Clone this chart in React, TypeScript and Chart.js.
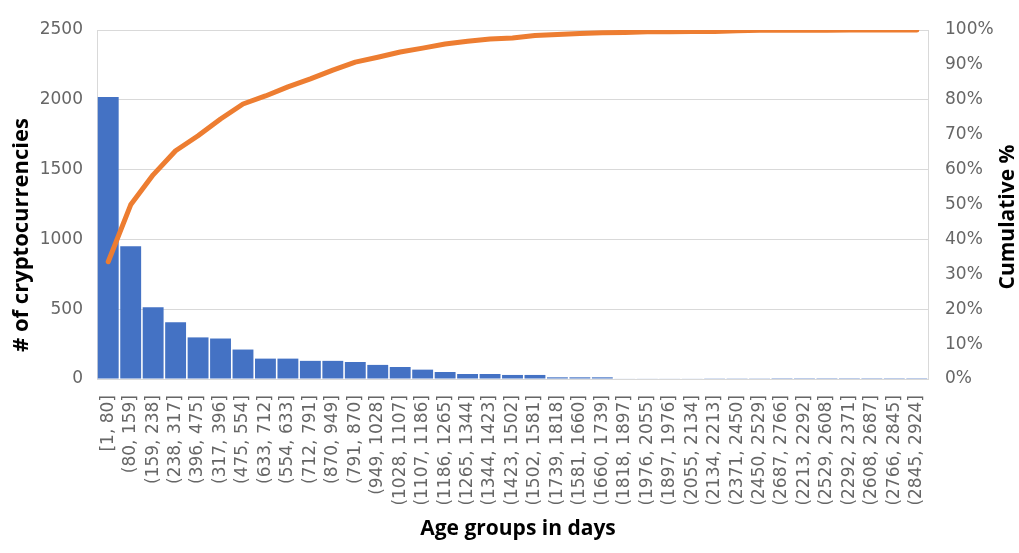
import { useEffect, useRef } from "react";
import { Chart, registerables } from "chart.js";
import type { Plugin } from "chart.js";

Chart.register(...registerables);

// age bins, in the order the pareto sorted them
const ageGroups = [
  "[1, 80]", "(80, 159]", "(159, 238]", "(238, 317]", "(396, 475]", "(317, 396]",
  "(475, 554]", "(633, 712]", "(554, 633]", "(712, 791]", "(870, 949]", "(791, 870]",
  "(949, 1028]", "(1028, 1107]", "(1107, 1186]", "(1186, 1265]", "(1265, 1344]",
  "(1344, 1423]", "(1423, 1502]", "(1502, 1581]", "(1739, 1818]", "(1581, 1660]",
  "(1660, 1739]", "(1818, 1897]", "(1976, 2055]", "(1897, 1976]", "(2055, 2134]",
  "(2134, 2213]", "(2371, 2450]", "(2450, 2529]", "(2687, 2766]", "(2213, 2292]",
  "(2529, 2608]", "(2292, 2371]", "(2608, 2687]", "(2766, 2845]", "(2845, 2924]",
];

const counts = [
  2020, 951, 514, 406, 298, 290, 211, 146, 146, 130, 130, 122, 101, 86, 67, 50, 36,
  36, 29, 29, 12, 12, 12, 4, 3, 3, 3, 2, 2, 2, 1, 1, 1, 1, 1, 1, 1,
];

const cumulativePct = [
  33.6, 49.9, 58.5, 65.4, 69.7, 74.5, 78.8, 81.1, 83.7, 86.0, 88.5, 90.8, 92.2, 93.7,
  94.8, 96.0, 96.8, 97.4, 97.7, 98.4, 98.7, 99.0, 99.2, 99.3, 99.5, 99.5, 99.6, 99.6,
  99.8, 99.9, 99.9, 99.9, 99.9, 100, 100, 100, 100,
];

const countTicks = [0, 500, 1000, 1500, 2000, 2500];

const tickFont = { family: "DejaVu Sans", size: 17 };
const tickColor = "#666666";
const gridColor = "#d9d9d9";

// axis titles drawn by hand so the right one reads bottom-to-top like the left
const axisTitles: Plugin<"bar"> = {
  id: "axisTitles",
  afterDraw(chart) {
    const ctx = chart.ctx;
    ctx.save();
    ctx.fillStyle = "#000";
    ctx.textAlign = "center";
    ctx.textBaseline = "middle";

    ctx.font = "bold 21px 'Open Sans'";
    ctx.fillText("Age groups in days", 518, 529);

    ctx.save();
    ctx.translate(22, 235);
    ctx.rotate(-Math.PI / 2);
    ctx.font = "bold 22px 'Open Sans'";
    ctx.fillText("# of cryptocurrencies", 0, 0);
    ctx.restore();

    ctx.save();
    ctx.translate(1008, 217);
    ctx.rotate(-Math.PI / 2);
    ctx.font = "bold 21px 'Open Sans'";
    ctx.fillText("Cumulative %", 0, 0);
    ctx.restore();

    ctx.restore();
  },
};

const App = () => {
  const canvasRef = useRef<HTMLCanvasElement | null>(null);
  const chartRef = useRef<Chart | null>(null);

  useEffect(() => {
    if (!canvasRef.current) return;
    if (chartRef.current) chartRef.current.destroy();

    chartRef.current = new Chart(canvasRef.current, {
      type: "bar",
      data: {
        labels: ageGroups,
        datasets: [
          {
            type: "line",
            data: cumulativePct,
            yAxisID: "y1",
            borderColor: "#ED7D31",
            borderWidth: 5,
            pointRadius: 0,
            tension: 0,
            borderCapStyle: "round",
            borderJoinStyle: "round",
            order: 0,
          },
          {
            type: "bar",
            data: counts,
            yAxisID: "y",
            backgroundColor: "#4472C4",
            barPercentage: 0.93,
            categoryPercentage: 1,
            order: 1,
          },
        ],
      } as any,
      options: {
        animation: false,
        responsive: true,
        maintainAspectRatio: false,
        layout: { padding: { top: 30, left: 0, right: 0, bottom: 0 } },
        plugins: { legend: { display: false }, tooltip: { enabled: false } },
        scales: {
          x: {
            grid: { display: false },
            border: { display: true, color: gridColor },
            ticks: {
              font: tickFont,
              color: tickColor,
              minRotation: 90,
              maxRotation: 90,
              autoSkip: false,
              padding: 8,
            },
            afterFit: (s: any) => {
              s.height = 174;
            },
          },
          y: {
            position: "left",
            min: 0,
            max: 2500,
            afterBuildTicks: (s: any) => {
              s.ticks = countTicks.map((v) => ({ value: v }));
            },
            grid: { color: gridColor, drawTicks: false },
            border: { display: true, color: gridColor },
            ticks: {
              font: tickFont,
              color: tickColor,
              padding: 14,
              callback: (v: any) => String(v),
            },
            afterFit: (s: any) => {
              s.width = 97;
            },
          },
          y1: {
            position: "right",
            min: 0,
            max: 100,
            grid: { drawOnChartArea: false, drawTicks: false },
            border: { display: true, color: gridColor },
            ticks: {
              stepSize: 10,
              font: tickFont,
              color: tickColor,
              padding: 17,
              callback: (v: any) => v + "%",
            },
            afterFit: (s: any) => {
              s.width = 91;
            },
          },
        },
      },
      plugins: [axisTitles],
    } as any);

    return () => {
      if (chartRef.current) {
        chartRef.current.destroy();
        chartRef.current = null;
      }
    };
  }, []);

  return (
    <div style={{ position: "absolute", left: 0, top: 0, width: "1019px", height: "553px", background: "#fff" }}>
      <canvas ref={canvasRef} />
    </div>
  );
};

export default App;
